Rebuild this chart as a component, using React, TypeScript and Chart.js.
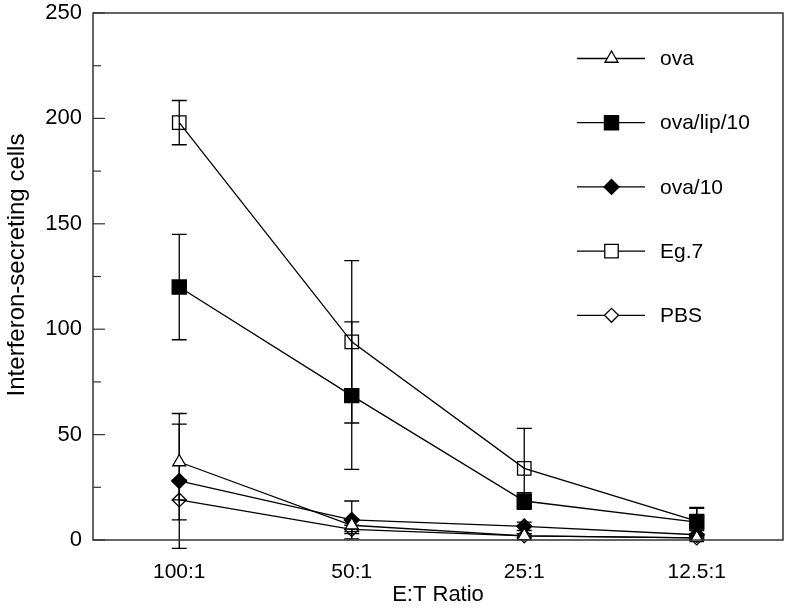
import React, { useEffect, useRef } from 'react';
import { Chart, registerables } from 'chart.js';
import { drawPoint } from 'chart.js/helpers';

Chart.register(...registerables);

const categories = ['100:1', '50:1', '25:1', '12.5:1'];

const ova = [37, 7, 2, 1];
const ovaErr = [18, 3, 1, 1];

const ovaLip10 = [120, 68.5, 18.5, 8.5];
const ovaLip10Err = [25, 35, 4, 7];

const ova10 = [28, 9.5, 6.5, 2.5];
const ova10Err = [32, 9, 2, 2];

const eg7 = [198, 94, 34, 9];
const eg7Err = [10.5, 38.5, 19, 6];

const pbs = [19, 5, 2, 1];
const pbsErr = [9.5, 2, 1, 1];

const yTickValues = [0, 25, 50, 75, 100, 125, 150, 175, 200, 225, 250];

const yTitle = 'Interferon-secreting cells';
const xTitle = 'E:T Ratio';

const FONT = "'Liberation Sans', Arial, Helvetica, sans-serif";

export default function App() {
  const ref = useRef<HTMLCanvasElement>(null);

  useEffect(() => {
    if (!ref.current) return;
    const series = [
      { label: 'ova', data: ova, err: ovaErr, style: 'triangle', bg: '#ffffff', radius: 7.5 },
      { label: 'ova/lip/10', data: ovaLip10, err: ovaLip10Err, style: 'rect', bg: '#000000', radius: 10 },
      { label: 'ova/10', data: ova10, err: ova10Err, style: 'rectRot', bg: '#000000', radius: 7.5 },
      { label: 'Eg.7', data: eg7, err: eg7Err, style: 'rect', bg: 'rgba(255,255,255,0)', radius: 9.5 },
      { label: 'PBS', data: pbs, err: pbsErr, style: 'rectRot', bg: 'rgba(255,255,255,0)', radius: 7 },
    ];

    const errorBars = {
      id: 'errorBars',
      beforeDatasetsDraw(chart: any) {
        const ctx = chart.ctx;
        const y = chart.scales.y;
        ctx.save();
        ctx.strokeStyle = '#000';
        ctx.lineWidth = 1.3;
        series.forEach((s, i) => {
          const meta = chart.getDatasetMeta(i);
          meta.data.forEach((pt: any, j: number) => {
            const x = pt.x;
            const top = y.getPixelForValue(s.data[j] + s.err[j]);
            const bot = y.getPixelForValue(s.data[j] - s.err[j]);
            ctx.beginPath();
            ctx.moveTo(x, top);
            ctx.lineTo(x, bot);
            ctx.moveTo(x - 7.5, top);
            ctx.lineTo(x + 7.5, top);
            ctx.moveTo(x - 7.5, bot);
            ctx.lineTo(x + 7.5, bot);
            ctx.stroke();
          });
        });
        ctx.restore();
      },
    };

    const frame = {
      id: 'frame',
      afterDraw(chart: any) {
        const ctx = chart.ctx;
        const a = chart.chartArea;
        const y = chart.scales.y;
        ctx.save();
        ctx.strokeStyle = '#333';
        ctx.lineWidth = 1.5;
        ctx.strokeRect(a.left, a.top, a.right - a.left, a.bottom - a.top);
        ctx.lineWidth = 1.2;
        yTickValues.forEach((v) => {
          const py = y.getPixelForValue(v);
          const len = v % 50 === 0 ? 12 : 8;
          ctx.beginPath();
          ctx.moveTo(a.left, py);
          ctx.lineTo(a.left + len, py);
          ctx.stroke();
        });
        // y title
        ctx.save();
        ctx.translate(17, 265);
        ctx.rotate(-Math.PI / 2);
        ctx.fillStyle = '#000';
        ctx.font = `24px ${FONT}`;
        ctx.textAlign = 'center';
        ctx.textBaseline = 'middle';
        ctx.fillText(yTitle, 0, 0);
        ctx.restore();
        // legend
        series.forEach((s, i) => {
          const ry = a.top + 45.5 + i * 64.2;
          ctx.strokeStyle = '#000';
          ctx.lineWidth = 1.3;
          ctx.beginPath();
          ctx.moveTo(a.left + 484, ry);
          ctx.lineTo(a.left + 552, ry);
          ctx.stroke();
          ctx.fillStyle = s.bg === '#000000' ? '#000' : '#fff';
          drawPoint(ctx, { pointStyle: s.style, radius: s.radius, rotation: 0, borderWidth: 1.3 } as any, a.left + 518.5, ry);
          ctx.fillStyle = '#000';
          ctx.font = `21px ${FONT}`;
          ctx.textBaseline = 'middle';
          ctx.textAlign = 'left';
          ctx.fillText(s.label, a.left + 567, ry + 1);
        });
        ctx.restore();
      },
    };

    const chart = new Chart(ref.current, {
      type: 'line',
      data: {
        labels: categories,
        datasets: series.map((s) => ({
          label: s.label,
          data: s.data,
          borderColor: '#000',
          borderWidth: 1.3,
          pointStyle: s.style as any,
          pointRadius: s.radius,
          pointBackgroundColor: s.bg,
          pointBorderColor: '#000',
          pointBorderWidth: 1.3,
          tension: 0,
          fill: false,
          clip: false as any,
        })),
      },
      options: {
        responsive: false,
        animation: false,
        devicePixelRatio: 1,
        layout: { padding: { top: 13, right: 13, left: 0, bottom: 0 } },
        plugins: { legend: { display: false }, tooltip: { enabled: false } },
        scales: {
          x: {
            type: 'category',
            offset: true,
            grid: { display: false, drawTicks: false },
            border: { display: false },
            ticks: { color: '#000', font: { family: FONT, size: 21 }, padding: 20, maxRotation: 0 },
            title: { display: true, text: xTitle, color: '#000', font: { family: FONT, size: 22 }, padding: { top: 0, bottom: 7 } },
            afterFit(scale: any) { scale.height = 75; scale.paddingLeft = 0; scale.paddingRight = 0; },
          },
          y: {
            type: 'linear',
            min: 0,
            max: 250,
            grid: { display: false, drawTicks: false },
            border: { display: false },
            ticks: { stepSize: 50, color: '#000', font: { family: FONT, size: 22 }, padding: 11 },
            afterFit(scale: any) { scale.width = 93; scale.paddingTop = 0; scale.paddingBottom = 0; },
          },
        },
      },
      plugins: [errorBars, frame],
    });
    return () => chart.destroy();
  }, []);

  return (
    <div style={{ position: 'fixed', left: 0, top: 0, width: 796, height: 615, background: '#fff' }}>
      <canvas ref={ref} width={796} height={615} style={{ display: 'block' }} />
    </div>
  );
}
